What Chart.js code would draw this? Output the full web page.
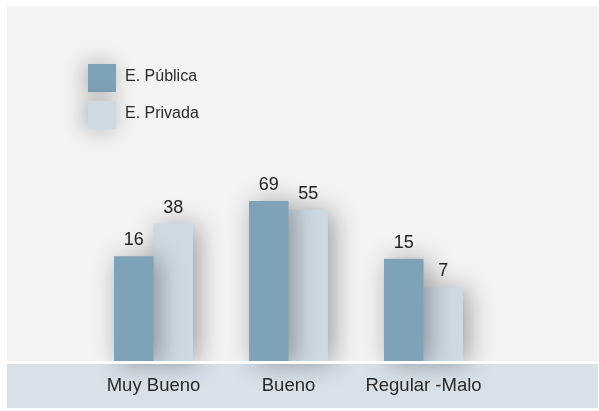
<!DOCTYPE html>
<html>
<head>
<meta charset="utf-8">
<script src="https://cdn.jsdelivr.net/npm/chart.js@4"></script>
<style>
  html, body { margin: 0; padding: 0; background: #fff; }
  canvas { display: block; }
</style>
</head>
<body>
<canvas id="chart" width="599" height="411"></canvas>
<script>
const categories = ['Muy Bueno', 'Bueno', 'Regular -Malo'];
const seriesNames = ['E. Pública', 'E. Privada'];
const publica = [16, 69, 15];
const privada = [38, 55, 7];

const FONT = '"Liberation Sans", Arial, Helvetica, sans-serif';

// panel background, band under the bars and the white divider
const backdrop = {
  id: 'backdrop',
  beforeDraw(chart) {
    const { ctx, chartArea } = chart;
    ctx.save();
    ctx.fillStyle = '#ffffff';
    ctx.fillRect(0, 0, chart.width, chart.height);
    ctx.fillStyle = '#f3f3f3';
    ctx.fillRect(7, 6, 591, chartArea.bottom - 6);
    ctx.fillStyle = '#d9e1e8';
    ctx.fillRect(7, chartArea.bottom + 3, 591, 408 - chartArea.bottom - 3);
    ctx.restore();
  },
  beforeDatasetsDraw(chart) {
    const ctx = chart.ctx;
    ctx.save();
    ctx.shadowColor = 'rgba(0, 0, 0, 0.36)';
    ctx.shadowBlur = 26;
    ctx.shadowOffsetX = 5;
    ctx.shadowOffsetY = 2;
  },
  afterDatasetsDraw(chart) {
    const { ctx, chartArea } = chart;
    ctx.restore();
    ctx.save();
    ctx.fillStyle = '#ffffff';
    ctx.fillRect(7, chartArea.bottom, 591, 3);

    // value labels above the bars
    ctx.fillStyle = '#222';
    ctx.font = '18px ' + FONT;
    ctx.textAlign = 'center';
    ctx.textBaseline = 'alphabetic';
    chart.data.datasets.forEach((ds, i) => {
      chart.getDatasetMeta(i).data.forEach((bar, j) => {
        ctx.fillText(String(ds.data[j]), bar.x, bar.y - 11);
      });
    });
    ctx.restore();
  },
  afterDraw(chart) {
    // legend, stacked in the upper left
    const ctx = chart.ctx;
    ctx.save();
    chart.data.datasets.forEach((ds, i) => {
      const y = 64 + i * 37;
      ctx.save();
      ctx.shadowColor = 'rgba(0, 0, 0, 0.3)';
      ctx.shadowBlur = 22;
      ctx.shadowOffsetX = -3;
      ctx.fillStyle = ds.backgroundColor;
      ctx.fillRect(88, y, 28, 28);
      ctx.restore();
      ctx.fillStyle = '#2a2a2a';
      ctx.font = '16px ' + FONT;
      ctx.textBaseline = 'alphabetic';
      ctx.fillText(ds.label, 125, y + 17);
    });
    ctx.restore();
  }
};

new Chart(document.getElementById('chart'), {
  type: 'bar',
  data: {
    labels: categories,
    datasets: [
      { label: seriesNames[0], data: publica, backgroundColor: '#7ea2b7', clip: false },
      { label: seriesNames[1], data: privada, backgroundColor: '#cddae4', clip: false }
    ]
  },
  options: {
    responsive: false,
    devicePixelRatio: 1,
    animation: false,
    layout: { padding: { left: 86, right: 108, top: 13, bottom: 10 } },
    datasets: {
      bar: { categoryPercentage: 0.585, barPercentage: 1, borderWidth: 0 }
    },
    plugins: {
      legend: { display: false },
      tooltip: { enabled: false }
    },
    scales: {
      x: {
        grid: { display: false, drawTicks: false },
        border: { display: false },
        ticks: { color: '#2a2a2a', font: { family: FONT, size: 18.5 }, padding: 14 },
        afterFit(scale) { scale.height = 40; }
      },
      y: {
        type: 'logarithmic',
        display: false,
        min: 1,
        max: 10000
      }
    }
  },
  plugins: [backdrop]
});
</script>
</body>
</html>
